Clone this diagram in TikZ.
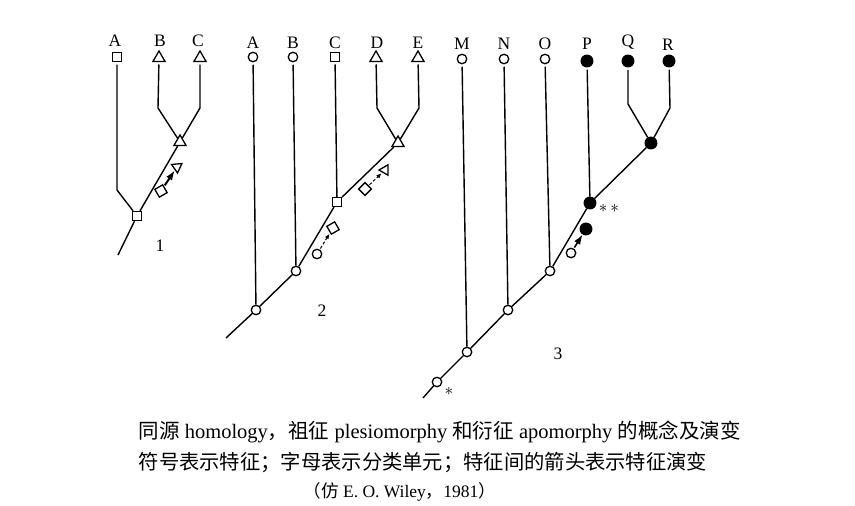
\documentclass[tikz,border=0pt]{standalone}
\usepackage{fontspec}
\setmainfont{Liberation Serif}
\newfontfamily\cjk{Noto Sans CJK SC}
\usetikzlibrary{positioning,shapes.geometric,arrows.meta}

\tikzset{
  taxlab/.style={inner sep=0pt,font=\fontsize{17.5}{17.5}\selectfont},
  opn/.style={circle,draw,line width=1.3pt,minimum size=9.5pt,inner sep=0pt,fill=white},
  fil/.style={circle,draw,fill=black,minimum size=11.5pt,inner sep=0pt},
  sq/.style={rectangle,draw,line width=1.3pt,minimum size=9pt,inner sep=0pt,fill=white},
  tri/.style={regular polygon,regular polygon sides=3,draw,line width=1.3pt,minimum size=14pt,inner sep=0pt,fill=white},
  tip/.style={outer sep=3pt},
  star/.style={inner sep=0pt,font=\fontsize{17}{17}\selectfont},
  evo/.style={-{Latex[length=10pt,width=7pt]},line width=2pt,shorten <=1pt,shorten >=0pt},
  evod/.style={-{Latex[length=5pt,width=4.5pt]},line width=1pt,densely dashed,shorten <=1pt,shorten >=1pt}
}

\begin{document}
\begin{tikzpicture}[x=1pt,y=-1pt,line width=1.4pt]

        \useasboundingbox (0,0) rectangle (855,506);

        % Tree 1
        \node[sq,tip] (t1A) at (117,57) {};
        \node[tri,tip] (t1B) at (159,58) {};
        \node[tri,tip] (t1C) at (200,58) {};
        \node[taxlab] at (115,41) {A};
        \node[taxlab] at (160,41) {B};
        \node[taxlab] at (198,41) {C};
        \coordinate (t1a) at (117,190);
        \coordinate (t1b) at (158,108);
        \coordinate (t1c) at (200,108);
        \coordinate (t1o) at (118,255);
        \node[sq] (t1r) at (137,216) {};
        \node[tri] (t1x) at (180,142) {};
        \draw (t1A) -- (t1a) -- (t1r);
        \draw (t1B) -- (t1b) -- (t1x);
        \draw (t1C) -- (t1c) -- (t1x);
        \draw (t1o) -- (t1r) -- (t1x);
        % character change on the branch
        \node[sq,rotate=30] (t1s) at (161,191) {};
        \node[tri,rotate=185,minimum size=12pt] (t1t) at (177,167) {};
        \draw[evo] (t1s) -- (t1t);
        \node[taxlab] at (160,246) {1};

        % Tree 2
        \node[opn,tip] (t2A) at (253,57) {};
        \node[opn,tip] (t2B) at (293,57) {};
        \node[sq,tip] (t2C) at (335,57) {};
        \node[tri,tip] (t2D) at (376,58) {};
        \node[tri,tip] (t2E) at (418,58) {};
        \node[taxlab] at (253,43) {A};
        \node[taxlab] at (293,43) {B};
        \node[taxlab] at (335,43) {C};
        \node[taxlab] at (377,43) {D};
        \node[taxlab] at (418,43) {E};
        \coordinate (t2d) at (377,108);
        \coordinate (t2e) at (419,108);
        \coordinate (t2o) at (226,338);
        \node[opn] (t2a) at (256,310) {};
        \node[opn] (t2b) at (296,271) {};
        \node[sq] (t2c) at (337,202) {};
        \node[tri] (t2x) at (398,143) {};
        \draw (t2A) -- (t2a);
        \draw (t2B) -- (t2b);
        \draw (t2C) -- (t2c);
        \draw (t2D) -- (t2d) -- (t2x);
        \draw (t2E) -- (t2e) -- (t2x);
        \draw (t2o) -- (t2a) -- (t2b) -- (t2c) -- (t2x);
        % character changes on the branches
        \node[opn] (t2s) at (317,254) {};
        \node[sq,rotate=30] (t2u) at (333,228) {};
        \draw[evod] (t2s) -- (t2u);
        \node[sq,rotate=45] (t2v) at (365,189) {};
        \node[tri,rotate=-30,minimum size=12pt] (t2w) at (385,170) {};
        \draw[evod] (t2v) -- (t2w);
        \node[taxlab] at (322,311) {2};

        % Tree 3
        \node[opn,tip] (t3M) at (462,59) {};
        \node[opn,tip] (t3N) at (504,59) {};
        \node[opn,tip] (t3O) at (545,59) {};
        \node[fil,tip] (t3P) at (587,61) {};
        \node[fil,tip] (t3Q) at (628,61) {};
        \node[fil,tip] (t3R) at (669,61) {};
        \node[taxlab] at (462,44) {M};
        \node[taxlab] at (504,44) {N};
        \node[taxlab] at (545,44) {O};
        \node[taxlab] at (587,44) {P};
        \node[taxlab] at (628,42) {Q};
        \node[taxlab] at (668,45) {R};
        \coordinate (t3q) at (628,104);
        \coordinate (t3r) at (670,108);
        \coordinate (t3o) at (423,398);
        \node[opn] (t3z) at (437,382) {};
        \node[opn] (t3m) at (467,352) {};
        \node[opn] (t3n) at (508,310) {};
        \node[opn] (t3k) at (550,271) {};
        \node[fil] (t3p) at (590,203) {};
        \node[fil] (t3x) at (651,143) {};
        \draw (t3M) -- (t3m);
        \draw (t3N) -- (t3n);
        \draw (t3O) -- (t3k);
        \draw (t3P) -- (t3p);
        \draw (t3Q) -- (t3q) -- (t3x);
        \draw (t3R) -- (t3r) -- (t3x);
        \draw (t3o) -- (t3z) -- (t3m) -- (t3n) -- (t3k) -- (t3p) -- (t3x);
        \node[star] at (449,391) {$\ast$};
        \node[star] at (609,208) {$\ast\,\ast$};
        % character change on the branch
        \node[opn] (t3s) at (571,253) {};
        \node[fil] (t3t) at (586,229) {};
        \draw[evo,line width=1.6pt] (t3s) -- (t3t);
        \node[taxlab] at (558,354) {3};

        % Caption
        \node[anchor=west,inner sep=0pt,font=\fontsize{20.5}{20.5}\selectfont] (cap1) at (138,432)
          {{\cjk 同源} homology{\cjk ，祖征} plesiomorphy {\cjk 和衍征} apomorphy {\cjk 的概念及演变}};
        \node[anchor=west,inner sep=0pt,font=\fontsize{20.3}{20.3}\selectfont\cjk] (cap2) at (138,463)
          {符号表示特征；字母表示分类单元；特征间的箭头表示特征演变};
        \node[anchor=west,inner sep=0pt,font=\fontsize{17.5}{17.5}\selectfont] (cap3) at (303,492)
          {{\cjk （仿} E. O. Wiley{\cjk ，}1981{\cjk ）}};

    \end{tikzpicture}
\end{document}
